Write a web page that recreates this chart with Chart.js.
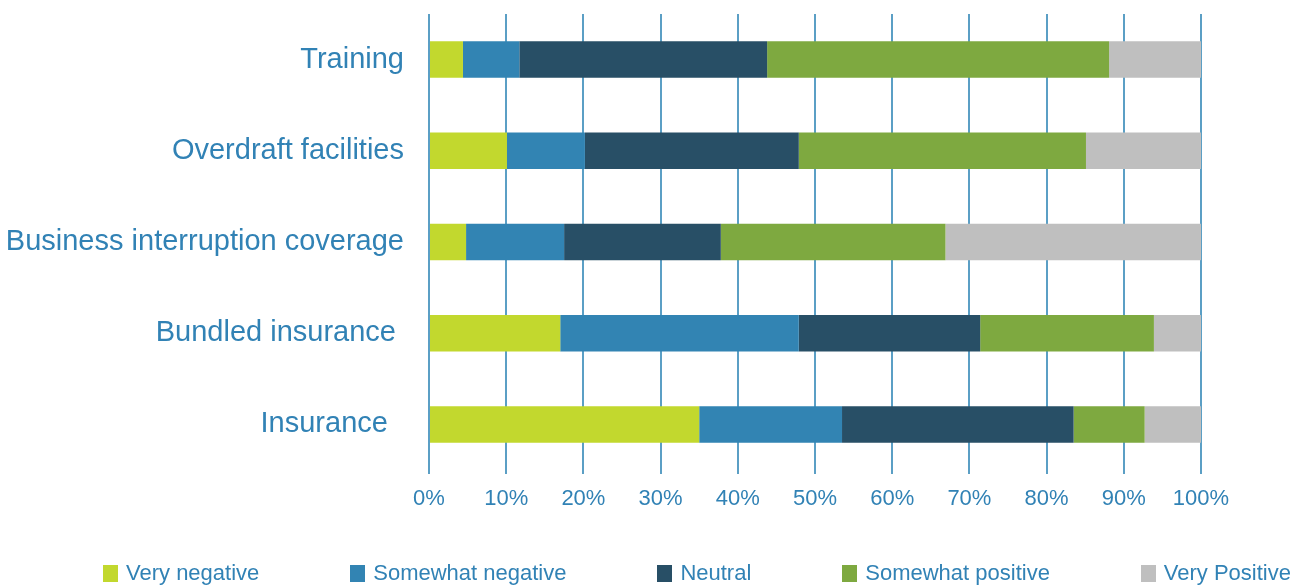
<!DOCTYPE html>
<html>
<head>
<meta charset="utf-8">
<script src="https://cdn.jsdelivr.net/npm/chart.js@4/dist/chart.umd.min.js"></script>
<style>
  body { margin: 0; background: #fff; }
  #wrap { position: relative; width: 1304px; height: 588px; }
  #legend {
    position: absolute; left: 103px; top: 559px; width: 1188px;
    display: flex; justify-content: space-between;
    font-family: "Liberation Sans", Arial, sans-serif;
    font-size: 22px; color: #3182b5; line-height: 28px;
  }
  #legend span.item { display: flex; align-items: center; white-space: nowrap; }
  #legend span.box { display: inline-block; width: 15px; height: 17px; margin-right: 8px; }
</style>
</head>
<body>
<div id="wrap">
  <canvas id="chart" width="1304" height="588"></canvas>
  <div id="legend"></div>
</div>
<script>
// categories, top to bottom
var categories = ["Training", "Overdraft facilities", "Business interruption coverage", "Bundled insurance ", "Insurance  "];
var seriesNames = ["Very negative", "Somewhat negative", "Neutral", "Somewhat positive", "Very Positive"];
var colors = ["#c2d82e", "#3284b3", "#284f66", "#7ea940", "#bfbfbf"];

// percentages
var veryNegative     = [4.4, 10.1, 4.8, 17.0, 35.0];
var somewhatNegative = [7.3, 10.1, 12.7, 30.9, 18.5];
var neutral          = [32.1, 27.7, 20.3, 23.5, 30.0];
var somewhatPositive = [44.3, 37.2, 29.1, 22.5, 9.2];
var veryPositive     = [11.9, 14.9, 33.1, 6.1, 7.3];

var tickValues = [0, 10, 20, 30, 40, 50, 60, 70, 80, 90, 100];

var fontFamily = '"Liberation Sans", Arial, sans-serif';
var textColor = "#3182b5";

var allValues = [veryNegative, somewhatNegative, neutral, somewhatPositive, veryPositive];
var datasets = allValues.map(function (vals, i) {
    return {
        label: seriesNames[i],
        data: vals,
        backgroundColor: colors[i],
        borderWidth: 0,
        barPercentage: 0.4,
        categoryPercentage: 1.0
    };
});

var ctx = document.querySelector('#chart').getContext('2d');
var chart = new Chart(ctx, {
    type: 'bar',
    data: {
        labels: categories,
        datasets: datasets
    },
    options: {
        responsive: false,
        animation: false,
        indexAxis: 'y',
        layout: { padding: { top: 14, right: 103, bottom: 73, left: 0 } },
        plugins: {
            legend: { display: false },
            tooltip: { enabled: false }
        },
        scales: {
            x: {
                stacked: true,
                min: 0,
                max: 100,
                afterBuildTicks: function (scale) {
                    scale.ticks = tickValues.map(function (v) { return { value: v }; });
                },
                afterFit: function (scale) {
                    scale.height = 45;
                    scale.paddingLeft = 0;
                    scale.paddingRight = 0;
                },
                border: { display: false },
                grid: { color: "#5b9fc5", lineWidth: 2, tickLength: 4, drawTicks: true },
                ticks: {
                    padding: 12,
                    color: textColor,
                    font: { family: fontFamily, size: 22 },
                    callback: function (v) { return v + '%'; }
                }
            },
            y: {
                stacked: true,
                afterFit: function (scale) {
                    scale.width = 429;
                    scale.paddingTop = 0;
                    scale.paddingBottom = 0;
                },
                border: { display: false },
                grid: { display: false, drawTicks: false },
                ticks: {
                    padding: 25,
                    color: textColor,
                    font: { family: fontFamily, size: 29 }
                }
            }
        }
    }
});

// legend as html below the plot
var legend = document.getElementById('legend');
seriesNames.forEach(function (name, i) {
    var item = document.createElement('span');
    item.className = 'item';
    var box = document.createElement('span');
    box.className = 'box';
    box.style.background = colors[i];
    item.appendChild(box);
    item.appendChild(document.createTextNode(name));
    legend.appendChild(item);
});
</script>
</body>
</html>
